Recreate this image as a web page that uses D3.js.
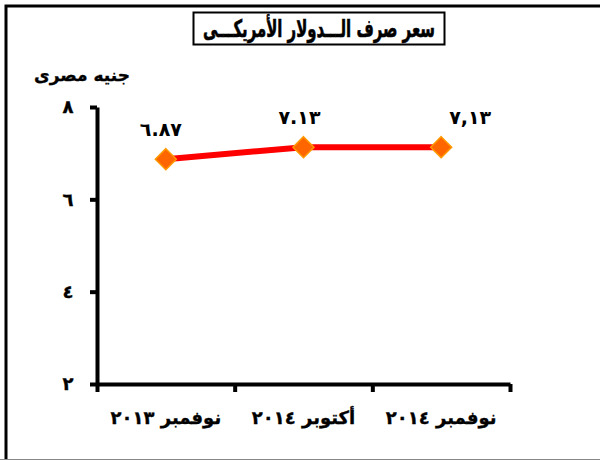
<!DOCTYPE html>
<html>
<head>
<meta charset="utf-8">
<script src="https://cdn.jsdelivr.net/npm/d3@7"></script>
<style>
  body { margin: 0; background: #fff; }
  text { font-family: "DejaVu Sans", sans-serif; font-weight: bold; fill: #000; stroke: #000; stroke-width: 0.35px; }
</style>
</head>
<body>
<svg id="chart" width="600" height="460"></svg>
<script>
// data
const categories = ["نوفمبر ٢٠١٣", "أكتوبر ٢٠١٤", "نوفمبر ٢٠١٤"];
const values = [6.87, 7.13, 7.13];
const valueLabels = ["٦.٨٧", "٧.١٣", "٧,١٣"];
const yTicks = [2, 4, 6, 8];
const yTickLabels = ["٢", "٤", "٦", "٨"];
const title = "سعر صرف الـــدولار الأمريكـــى";
const yTitle = "جنيه مصرى";

const svg = d3.select("#chart");

// outer frame (only left/top visible, bottom is cut off)
svg.append("path")
    .attr("d", "M6,460 V6 H600")
    .attr("fill", "none")
    .attr("stroke", "#000")
    .attr("stroke-width", 3);
svg.append("line")
    .attr("x1", 0).attr("x2", 600)
    .attr("y1", 459.5).attr("y2", 459.5)
    .attr("stroke", "#888")
    .attr("stroke-width", 1);

const plot = { left: 97, right: 510, top: 107, bottom: 384 };

const xBand = d3.scaleBand()
    .domain(categories)
    .range([plot.left, plot.right]);

const xEdge = d3.scaleLinear()
    .domain([0, categories.length])
    .range([plot.left, plot.right]);

const y = d3.scaleLinear()
    .domain([2, 8])
    .range([plot.bottom, plot.top]);

// y axis
const yAxis = svg.append("g")
    .attr("transform", `translate(${plot.left},0)`)
    .call(d3.axisLeft(y).tickValues(yTicks).tickSize(7).tickSizeOuter(0)
        .tickFormat((d, i) => yTickLabels[i]));
yAxis.select(".domain").attr("stroke-width", 4);
yAxis.selectAll(".tick line").attr("stroke-width", 4);
yAxis.selectAll(".tick text")
    .attr("x", -29)
    .attr("font-size", 18)
    .attr("font-family", "DejaVu Sans")
    .attr("text-anchor", "middle");

// x axis: ticks at category edges
const xAxis = svg.append("g")
    .attr("transform", `translate(0,${plot.bottom})`)
    .call(d3.axisBottom(xEdge).tickValues(d3.range(categories.length + 1))
        .tickSize(8).tickSizeOuter(0).tickFormat(""));
xAxis.select(".domain").attr("stroke-width", 4);
xAxis.selectAll(".tick line").attr("stroke-width", 4);

svg.append("g")
    .selectAll("text")
    .data(categories)
    .join("text")
    .attr("x", d => xBand(d) + xBand.bandwidth() / 2)
    .attr("y", plot.bottom + 40)
    .attr("text-anchor", "middle")
    .attr("font-size", 18)
    .attr("direction", "rtl")
    .text(d => d);

// line
const pts = categories.map((c, i) => [xBand(c) + xBand.bandwidth() / 2, y(values[i])]);

svg.append("path")
    .datum(pts)
    .attr("d", d3.line())
    .attr("fill", "none")
    .attr("stroke", "#ff0000")
    .attr("stroke-width", 6);

svg.append("g")
    .selectAll("path")
    .data(pts)
    .join("path")
    .attr("transform", d => `translate(${d[0]},${d[1]})`)
    .attr("d", "M0,-10.5 L10.5,0 L0,10.5 L-10.5,0 Z")
    .attr("fill", "#ff6600")
    .attr("stroke", "#ff9900")
    .attr("stroke-width", 1.5);

// value labels (last one sits a bit to the right, like the original)
const labelDx = [-5, -4, 29];
svg.append("g")
    .selectAll("text")
    .data(pts)
    .join("text")
    .attr("x", (d, i) => d[0] + labelDx[i])
    .attr("y", (d, i) => d[1] - 23)
    .attr("text-anchor", "middle")
    .attr("font-size", 19)
    .attr("letter-spacing", 2)
    .style("stroke-width", 0)
    .text((d, i) => valueLabels[i]);

// y axis title
svg.append("text")
    .attr("x", 82)
    .attr("y", 81)
    .attr("text-anchor", "middle")
    .attr("font-size", 17)
    .text(yTitle);

// title box
svg.append("rect")
    .attr("x", 193.5).attr("y", 12.5)
    .attr("width", 251).attr("height", 32)
    .attr("fill", "#fff")
    .attr("stroke", "#000")
    .attr("stroke-width", 2);
svg.append("text")
    .attr("x", 319)
    .attr("y", 37)
    .attr("text-anchor", "middle")
    .attr("font-size", 24)
    .attr("textLength", 232)
    .attr("lengthAdjust", "spacingAndGlyphs")
    .style("stroke-width", 0.6)
    .text(title);
</script>
</body>
</html>
